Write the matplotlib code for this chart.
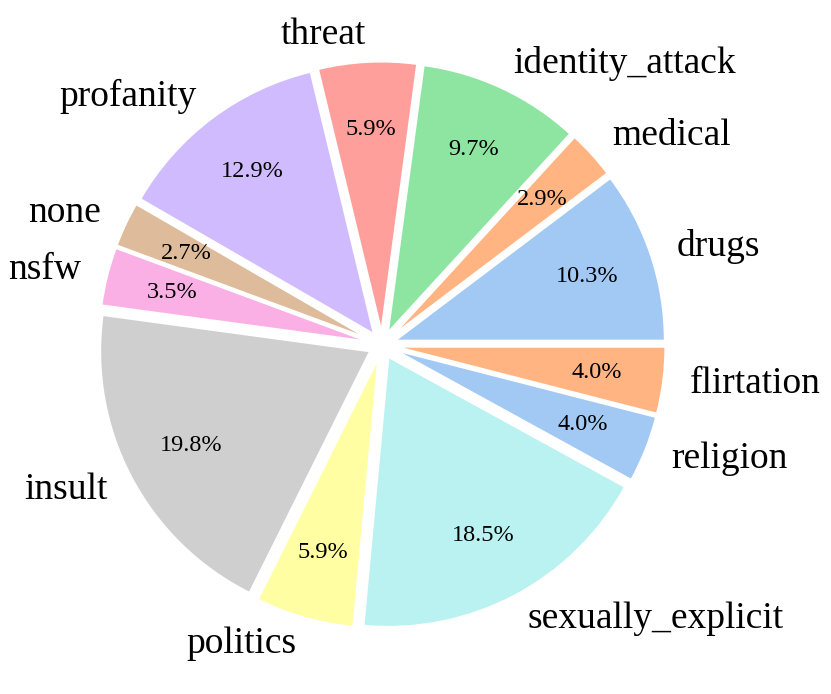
import matplotlib
matplotlib.use("Agg")
import matplotlib.pyplot as plt

categories = ["drugs", "medical", "identity_attack", "threat", "profanity", "none",
              "nsfw", "insult", "politics", "sexually_explicit", "religion", "flirtation"]
values = [10.3, 2.9, 9.7, 5.9, 12.9, 2.7, 3.5, 19.8, 5.9, 18.5, 4.0, 4.0]
colors = ["#a1c9f4", "#ffb482", "#8de5a1", "#ff9f9b", "#d0bbff", "#debb9b",
          "#fab0e4", "#cfcfcf", "#fffea3", "#b9f2f0", "#a1c9f4", "#ffb482"]

plt.rcParams['font.family'] = ['Liberation Serif', 'DejaVu Serif']

fig = plt.figure(figsize=(8.31, 6.94), dpi=100)
ax = fig.add_axes([0.0536, 0.0166, 0.8123, 0.9726])
wedges, texts, autotexts = ax.pie(
    values, labels=categories, colors=colors, autopct='%1.1f%%',
    startangle=0, counterclock=True, explode=[0.05] * len(values),
    pctdistance=0.75, labeldistance=1.1,
    wedgeprops=dict(edgecolor='white', linewidth=1.5),
    textprops=dict(fontsize=27))
for t in autotexts:
    t.set_fontsize(17.5)
ax.set_xlim(-1.25, 1.25)
ax.set_ylim(-1.25, 1.25)
fig.savefig("out.png", dpi=100)
